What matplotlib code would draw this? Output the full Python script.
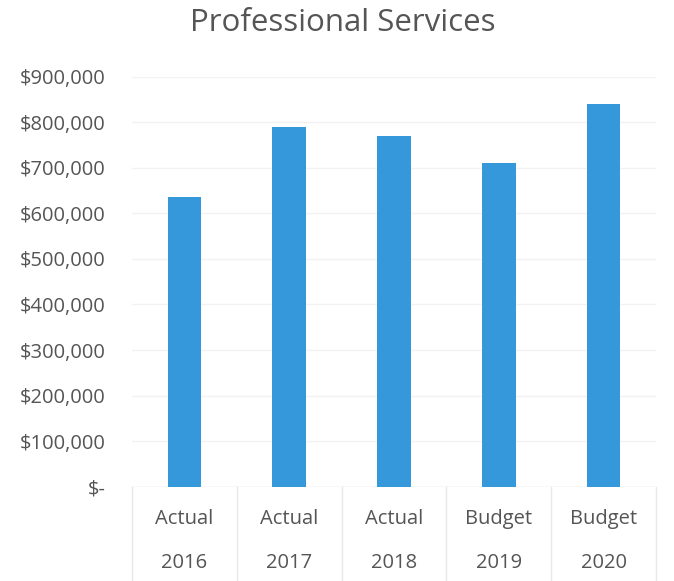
import matplotlib
matplotlib.use("Agg")
import matplotlib.pyplot as plt
from matplotlib.ticker import FuncFormatter
import matplotlib.transforms as mtransforms

plt.rcParams['font.family'] = ['Open Sans', 'DejaVu Sans']

title = "Professional Services"
kinds = ["Actual", "Actual", "Actual", "Budget", "Budget"]
years = ["2016", "2017", "2018", "2019", "2020"]
values = [636000, 789000, 769000, 711000, 840000]
yticks = [0, 100000, 200000, 300000, 400000, 500000, 600000, 700000, 800000, 900000]

text_color = "#555555"
bar_color = "#3498DB"

fig = plt.figure(figsize=(6.74, 5.81), dpi=100)
ax = fig.add_axes([132/674, 1 - 486.7/581, (656-132)/674, (486.7-76.7)/581])

x = list(range(len(values)))
ax.bar(x, values, width=0.32, color=bar_color, zorder=3)
ax.set_xlim(-0.5, len(values) - 0.5)
ax.set_ylim(0, 900000)
ax.set_yticks(yticks)

def fmt(v, pos):
    if v == 0:
        return "$-"
    return "${:,.0f}".format(v)

ax.yaxis.set_major_formatter(FuncFormatter(fmt))
ax.tick_params(axis='y', length=0, pad=19, labelsize=14.5, labelcolor=text_color)
ax.set_xticks([])
ax.grid(axis='y', color="#F2F2F2", linewidth=1, zorder=0)
for s in ax.spines.values():
    s.set_visible(False)
ax.axhline(0, color="#E8E8E8", linewidth=1, zorder=2)

trans = mtransforms.blended_transform_factory(ax.transData, ax.transAxes)
for xi, k, yv in zip(x, kinds, years):
    ax.text(xi, -0.078, k, transform=trans, ha='center', va='center',
            fontsize=14.5, color=text_color)
    ax.text(xi, -0.185, yv, transform=trans, ha='center', va='center',
            fontsize=14.5, color=text_color)
for b in range(len(values) + 1):
    ax.plot([b - 0.5, b - 0.5], [0, -0.26], transform=trans, color="#E8E8E8",
            linewidth=1, clip_on=False)

fig.text(0.508, 1 - 23/581, title, ha='center', va='center', fontsize=22.5,
         color=text_color)

fig.savefig("out.png", dpi=100)
